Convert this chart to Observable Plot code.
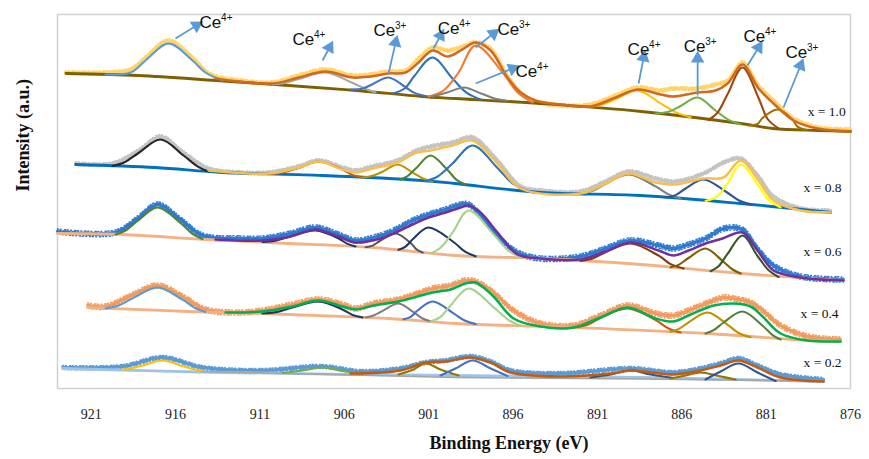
<!DOCTYPE html>
<html><head><meta charset="utf-8">
<script src="https://cdn.jsdelivr.net/npm/d3@7"></script>
<script src="https://cdn.jsdelivr.net/npm/@observablehq/plot@0.6"></script>
<style>body{margin:0;background:#fff;} svg{display:block;}</style>
</head><body>
<script>
// ---------- DATA (binding energy eV, intensity a.u.) ----------
const xTicks = [921, 916, 911, 906, 901, 896, 891, 886, 881, 876];

// x = 1.0
const raw10 = [[922.53,316],[920.15,316],[918.67,319],[917.78,331],[916.42,348],[915.0,331],[913.93,314],[912.15,308],[910.26,306],[908.71,313],[907.11,319],[905.51,313],[904.45,314],[903.38,317],[902.37,318],[901.6,330],[900.77,341],[899.88,338],[899.11,341],[898.22,346],[897.33,340],[896.33,313],[895.55,296],[894.67,287],[893.18,283],[891.41,284],[889.92,293],[888.62,301],[887.26,298],[886.55,300],[885.06,300],[884.0,304],[883.28,308],[882.4,326],[881.45,303],[880.56,288],[879.37,270],[877.95,261],[876.0,259]];
const base10 = [[922.5,315],[918.2,313],[913.6,308],[909.3,303],[905.3,298],[901.4,292],[899.4,290],[894.4,285],[888.4,277],[882.5,265],[880.6,260],[877.9,258],[876.0,257]];
const peaks10 = [
 [[920.15,314],[918.67,316],[917.78,328],[916.42,345],[915.0,328],[914.23,316],[913.22,308]],
 [[910.26,304],[909.6,305.3],[908.71,309.5],[907.11,316],[905.51,305.5],[904.62,298.8],[904.15,296]],
 [[905.62,299],[904.92,299.9],[904.33,304.3],[903.38,311],[902.43,302],[901.84,295.6],[901.19,292.5]],
 [[903.14,295],[902.43,300],[901.84,312.7],[900.77,331],[899.59,310],[898.76,295.8],[897.93,289]],
 [[901.01,292],[900.12,298],[899.23,316],[898.22,343],[896.62,316],[895.73,296],[894.84,286]],
 [[900.8,292],[899.9,296],[898.9,301],[897.9,295],[897.0,289.5],[896.4,288]],
 [[891.7,281.5],[890.81,283.4],[889.92,289.5],[888.62,298],[887.26,285.2],[886.37,276.4],[885.48,271.2]],
 [[887.55,275],[886.78,276.7],[886.07,282.5],[885.06,291],[884.0,278],[883.28,269.2],[882.51,264]],
 [[884.41,268.5],[883.88,275.9],[883.28,294.5],[882.4,321],[881.45,290.5],[880.91,269.5],[880.26,260]],
 [[882.04,263],[881.51,264.6],[881.21,270.5],[880.32,279],[879.43,268.8],[879.14,261.9],[878.6,258.5]]
];
const env10 = [[913.63,310],[910.26,305],[908.71,311],[907.11,317],[905.51,311],[904.45,312],[903.38,315],[902.37,316],[901.6,326],[900.77,338],[899.88,332],[899.11,338],[898.22,346],[897.33,338],[896.33,311],[895.55,296],[894.67,288],[893.18,284],[891.41,282],[889.92,291],[888.62,299],[887.26,294],[886.55,292],[885.06,296],[884.0,298],[883.28,305],[882.4,324],[881.45,300],[880.56,285],[879.37,268],[877.95,260],[876.0,257]];

// x = 0.8
const raw08 = [[921.93,225],[919.74,225],[918.2,238],[916.89,252],[915.53,236],[914.05,220],[912.15,216],[910.49,216],[908.71,222],[907.53,228],[906.11,221],[905.34,218],[904.33,222],[902.85,228],[901.72,238],[900.89,242],[899.59,246],[898.4,251],[896.92,228],[895.55,202],[894.37,198],[892.0,197],[890.52,207],[889.15,217],[887.55,210],[886.37,207],[884.71,215],[883.52,226],[882.51,230],[881.45,212],[880.56,192],[878.96,180],[877.18,178]];
const base08 = [[921.93,224],[917.19,221],[913.22,216],[907.29,213],[901.36,208],[899.41,205],[894.37,196],[888.44,193],[882.51,185],[877.18,176]];
const peaks08 = [
 [[919.74,222.5],[919.03,226.2],[918.2,235.5],[916.89,249],[915.53,233],[914.7,222.2],[914.05,217]],
 [[910.49,214.5],[909.6,216.1],[908.71,220.5],[907.53,227],[906.11,219],[905.51,213.5],[904.92,211]],
 [[904.92,211],[904.33,212.7],[903.68,217.2],[902.85,224],[901.9,215.4],[901.3,209.7],[900.77,206.8]],
 [[902.67,209],[902.25,212.4],[901.72,220.8],[900.89,233],[899.88,218.5],[899.35,208.6],[898.82,204]],
 [[901.19,207.2],[900.47,212],[899.59,225],[898.4,243],[896.92,220.5],[896.03,205],[895.14,197.5]],
 [[892.0,195],[891.29,197.7],[890.52,204.5],[889.15,214],[887.55,202.1],[886.78,194.1],[886.07,190]],
 [[886.96,191],[886.37,193.4],[885.77,200],[884.71,209],[883.4,197],[882.63,188.2],[881.92,184]],
 [[884.59,187.5],[883.88,192.4],[883.28,205.5],[882.51,224],[881.45,202.8],[880.85,188.4],[880.14,181]]
];
const env08 = [[914.05,218],[910.49,215],[908.71,221],[907.53,227],[906.11,219],[905.34,216],[904.33,220],[902.85,226],[901.72,236],[900.89,238],[899.59,243],[898.4,248],[896.92,225],[895.55,200],[892.0,195],[890.52,205],[889.15,215],[887.55,206],[886.37,204],[884.71,210],[883.52,211],[882.51,228],[881.45,208],[880.56,188],[878.96,178],[877.18,176]];

// x = 0.6
const raw06 = [[923.0,157],[919.56,156],[918.26,170],[917.07,184],[915.71,169],[914.41,153],[912.15,150],[910.85,150],[909.19,155],[907.71,161],[906.34,154],[905.34,148],[903.85,153],[902.96,159],[901.96,168],[901.01,174],[900.0,179],[899.11,184],[898.64,184],[897.93,174],[896.92,153],[895.73,136],[894.37,130],[892.0,132],[890.52,140],[889.03,148],[887.37,143],[886.49,140],[885.6,144],[884.59,150],[883.52,160],[882.4,159],[881.51,140],[880.56,123],[878.96,112],[876.41,109]];
const base06 = [[923.0,155],[919.15,154],[914.23,149],[909.31,145],[904.33,141],[899.41,133],[894.37,130],[888.44,124],[882.51,115],[876.41,108]];
const peaks06 = [
 [[919.56,154],[918.97,157.9],[918.26,167.5],[917.07,181],[915.71,165.5],[915.0,154.7],[914.41,149.5]],
 [[910.85,146.5],[910.08,147.9],[909.19,152],[907.71,158],[906.34,150],[905.81,144.6],[905.34,142]],
 [[904.74,141.3],[904.33,142.9],[903.85,148],[902.96,155],[902.07,145.5],[901.72,139.1],[901.36,136]],
 [[902.79,138.7],[902.37,141.9],[901.9,150],[901.01,161],[899.53,146.5],[898.82,136.6],[898.22,132.2]],
 [[900.89,135],[900.3,140.8],[899.59,155.8],[898.64,178],[897.16,154.3],[896.27,137.8],[895.44,130.5]],
 [[892.0,127.5],[891.29,129.9],[890.52,136.3],[889.03,145],[887.37,132.8],[886.66,124.4],[885.89,120]],
 [[886.66,121.3],[886.19,123.6],[885.6,130.5],[884.59,140],[883.58,127.5],[882.99,119],[882.51,115]],
 [[884.29,117.3],[883.82,122.2],[883.28,134.8],[882.4,153],[881.51,132.5],[880.85,118.2],[880.26,111.5]]
];
const env06 = [[913.63,149],[910.85,148],[909.19,152],[907.71,159],[906.34,152],[905.34,146],[903.85,150],[902.96,156],[901.96,164],[901.01,171],[900.0,176],[899.11,181],[898.64,183],[897.93,176],[896.92,156],[895.73,134],[894.37,130],[892.0,129],[890.52,137],[889.03,146],[887.37,138],[886.49,133],[885.6,138],[884.59,145],[883.58,150],[882.4,156],[881.51,138],[880.56,118],[878.96,111],[876.41,108]];

// x = 0.4
const raw04 = [[921.22,83],[920.15,82],[918.5,94],[917.07,103],[915.59,92],[914.23,79],[912.15,76],[910.85,78],[909.07,84],[907.53,89],[906.11,84],[905.34,80],[904.27,85],[902.79,89],[901.66,95],[900.77,100],[899.7,103],[898.82,108],[898.22,107],[897.16,96],[895.97,78],[894.37,65],[892.41,63],[890.81,73],[889.21,83],[887.55,75],[886.49,73],[885.48,79],[884.11,88],[883.52,91],[882.93,90],[881.92,86],[881.21,78],[880.14,63],[878.54,52],[876.59,49]];
const base04 = [[921.22,81],[915.23,77],[909.31,74],[903.38,70],[899.41,65],[892.41,61],[884.47,55],[878.54,48],[876.59,47]];
const peaks04 = [
 [[920.15,80],[919.38,82.9],[918.5,90.6],[917.07,101],[915.59,88.8],[914.82,80.2],[914.23,76.5]],
 [[910.85,75],[909.96,76.6],[909.07,81],[907.53,87],[906.11,79],[905.51,73.6],[904.92,71]],
 [[904.74,71],[904.27,73.1],[903.68,78.1],[902.79,85],[901.9,76.3],[901.36,70],[900.89,67.2]],
 [[902.49,69.2],[902.07,71.7],[901.66,78],[900.77,87],[899.53,75.2],[898.87,68],[898.22,64.5]],
 [[900.89,67],[900.3,71.6],[899.7,83],[898.64,100],[897.16,81.4],[896.27,68.5],[895.55,62.7]],
 [[892.41,61],[891.58,63.7],[890.81,70.8],[889.21,80],[887.55,68.4],[886.78,60],[886.07,56]],
 [[886.66,56.7],[886.19,59.4],[885.6,66.2],[884.47,76],[883.28,63.7],[882.63,55.5],[881.92,51.2]],
 [[884.59,55],[884.11,58.3],[883.52,66],[882.4,77],[881.21,62.8],[880.62,53.4],[880.14,49]]
];
const env04 = [[913.04,76],[910.85,77],[909.07,82],[907.53,88],[906.11,82],[905.34,79],[904.27,83],[902.79,87],[901.66,92],[900.77,96],[899.7,99],[898.82,105],[898.22,106],[897.16,92],[895.97,70],[894.37,62],[892.41,61],[890.81,71],[889.21,81],[887.55,70],[886.49,67],[885.48,74],[884.11,83],[882.93,85],[881.92,82],[881.21,72],[880.14,55],[878.54,48],[876.59,47]];

// x = 0.2
const raw02 = [[922.7,21],[919.15,22],[916.78,31],[914.41,21],[910.97,18],[907.29,22],[905.04,17],[902.67,20],[901.19,26],[900.0,28],[898.52,32],[897.33,27],[896.15,18],[893.18,15],[889.03,20],[886.49,16],[884.89,20],[883.7,25],[882.63,30],[881.51,23],[880.14,14],[877.59,9]];
const base02 = [[922.7,20],[913.22,16],[899.41,13],[888.44,11],[877.59,7]];
const base02b = [[914.5,17],[899.4,11],[888.4,9.5],[877.6,7.5]];
const peaks02 = [
 [[919.15,19],[918.55,20.5],[917.96,23],[916.78,28],[915.59,22.5],[915.0,19.5],[914.41,18]],
 [[909.66,15.5],[908.48,18],[907.29,21],[906.11,17.5],[904.92,14.5]],
 [[902.79,14],[901.9,19],[901.19,25],[900.3,19],[899.23,13]],
 [[900.3,13],[899.41,20],[898.4,28],[897.33,20],[896.33,12.5]],
 [[891.41,11],[890.22,14],[889.03,18],[887.85,14],[886.49,10.5]],
 [[886.66,10],[885.77,13],[884.89,16],[883.82,12.5],[882.81,9]],
 [[884.59,9],[883.7,17],[882.63,25],[881.51,16],[880.44,7.5]]
];
const env02 = [[905.63,15],[902.67,18],[901.19,26],[900.0,27],[898.52,31],[897.33,26],[896.15,16],[893.18,12],[890.22,15],[889.03,18],[887.85,16],[886.49,14],[884.89,18],[883.7,23],[882.63,28],[881.51,21],[880.14,11],[877.59,7]];

// Spectrum labels
const sampleLabels = ["x = 1.0", "x = 0.8", "x = 0.6", "x = 0.4", "x = 0.2"];
const sampleLabelE = [878.54, 878.78, 878.78, 878.96, 878.78];
const sampleLabelI = [273, 197, 133, 71, 22];

// Ce oxidation-state annotations
const ionCharge = ["4+","4+","3+","4+","3+","4+","4+","3+","4+","3+"];
const ionLabelE = [914.58, 909.07, 904.27, 900.47, 896.92, 895.85, 889.21, 885.89, 882.34, 879.85];
const ionLabelI = [361, 344, 353, 355, 354, 312, 334, 337, 347, 331];
const arrowE1 = [916.01, 907.29, 903.38, 900.71, 898.22, 898.22, 888.56, 885.06, 882.10, 879.97];
const arrowI1 = [350, 328, 315, 340, 341, 305, 305, 293, 323, 281];
const arrowE2 = [914.76, 906.88, 902.96, 900.30, 897.16, 896.03, 888.26, 885.06, 881.45, 878.96];
const arrowI2 = [363, 341, 346, 353, 355, 320, 331, 330, 341, 323];

// ---------- STYLE ----------
const W = 869, H = 459;
const M = {left: 57, right: 19, top: 14, bottom: 71};
const xDomain = [923, 876], yDomain = [0, 374];
const serif = "Liberation Serif, Times New Roman, serif";
const sans = "Liberation Sans, Arial, sans-serif";

const spectra = [
  {raw: raw10, rawC: "#ffd46b", jit: 1.8, base: base10, baseC: "#7f6000", peaks: peaks10,
   cols: ["#5b9bd5","#a5a5a5","#4472c4","#2e75b6","#ed7d31","#7f7f7f","#ffc000","#70ad47","#9e480e","#997300"],
   env: env10, envC: "#d2691e"},
  {raw: raw08, rawC: "#c4c4c4", jit: 1.8, base: base08, baseC: "#0070c0", peaks: peaks08,
   cols: ["#262626","#c55a11","#bf9000","#548235","#2e75b6","#7f7f7f","#2f5597","#ffff00"],
   env: env08, envC: "#f6bf4f"},
  {raw: raw06, rawC: "#2e7bcf", jit: 2.6, base: base06, baseC: "#f4b183", peaks: peaks06,
   cols: ["#548235","#203864","#595959","#1f3864","#a9d18e","#843c0c","#7f6000","#385723"],
   env: env06, envC: "#7030a0"},
  {raw: raw04, rawC: "#f39a5e", jit: 2.6, base: base04, baseC: "#f4b183", peaks: peaks04,
   cols: ["#5b9bd5","#203864","#7f7f7f","#4472c4","#a9d18e","#c55a11","#bf9000","#548235"],
   env: env04, envC: "#00b050"},
  {raw: raw02, rawC: "#5b9bd5", jit: 2.0, base: base02, baseC: "#9dc3e6", peaks: peaks02,
   cols: ["#ffc000","#70ad47","#997300","#4472c4","#44546a","#997300","#2f5597"],
   env: env02, envC: "#c55a11"}
];

// dash patterns used to roughen the measured traces (pure styling)
const roughness = [
  {f: -1.0, dash: "1 2.2 0.8 3.1 1.4 1.6", off: 0},
  {f: -0.5, dash: "2.1 1.3 0.7 2.6 1.5 0.9", off: 0.7},
  {f: 0.5, dash: "0.9 1.8 2.2 1.1 0.6 2.7", off: 1.9},
  {f: 1.0, dash: "0.8 2.9 1.2 1.7 0.9 2.4", off: 1.4}
];

const X = d => d[0], Y = d => d[1];
const marks = [Plot.frame({stroke: "#d0d0d0", strokeWidth: 1.5})];
spectra.forEach((s, k) => {
  marks.push(Plot.line(s.raw, {x: X, y: Y, stroke: s.rawC, strokeWidth: 3, curve: "catmull-rom"}));
  roughness.forEach(r => marks.push(Plot.line(s.raw, {x: X, y: Y, dy: r.f * s.jit, stroke: s.rawC, strokeWidth: 1.5,
    strokeDasharray: r.dash, strokeDashoffset: r.off, curve: "catmull-rom"})));
  marks.push(Plot.line(s.base, {x: X, y: Y, stroke: s.baseC, strokeWidth: 2.8, curve: "catmull-rom"}));
  if (k === 4) marks.push(Plot.line(base02b, {x: X, y: Y, stroke: "#a5a5a5", strokeWidth: 1.6}));
  s.peaks.forEach((p, i) => marks.push(Plot.line(p, {x: X, y: Y, stroke: s.cols[i], strokeWidth: 2.1, curve: "catmull-rom"})));
  marks.push(Plot.line(s.env, {x: X, y: Y, stroke: s.envC, strokeWidth: 2.5, curve: "catmull-rom"}));
});

// arrows
const xs = d3.scaleLinear(xDomain, [M.left, W - M.right]);
const ys = d3.scaleLinear(yDomain, [H - M.bottom, M.top]);
const idx = d3.range(ionCharge.length);
const angle = i => Math.atan2(xs(arrowE2[i]) - xs(arrowE1[i]), -(ys(arrowI2[i]) - ys(arrowI1[i]))) * 180 / Math.PI;
marks.push(Plot.link(idx, {x1: i => arrowE1[i], y1: i => arrowI1[i], x2: i => arrowE2[i], y2: i => arrowI2[i], stroke: "#5b9bd5", strokeWidth: 1.8}));
marks.push(Plot.dot(idx, {x: i => arrowE2[i], y: i => arrowI2[i], symbol: "triangle", r: 5, fill: "#5b9bd5", stroke: "none", rotate: angle}));
marks.push(Plot.text(idx, {x: i => ionLabelE[i], y: i => ionLabelI[i], text: () => "Ce", textAnchor: "start", lineAnchor: "bottom", fontSize: 17, fontFamily: sans, fill: "#111"}));
marks.push(Plot.text(idx, {x: i => ionLabelE[i], y: i => ionLabelI[i], text: i => ionCharge[i], dx: 21.5, dy: -7, textAnchor: "start", lineAnchor: "bottom", fontSize: 10, fontFamily: sans, fill: "#111"}));
marks.push(Plot.text(sampleLabels, {x: (d, i) => sampleLabelE[i], y: (d, i) => sampleLabelI[i], textAnchor: "start", lineAnchor: "bottom", fontSize: 13.5, fontFamily: serif, fill: "#111"}));
marks.push(Plot.axisX(xTicks, {tickSize: 0, tickPadding: 21, fontSize: 14, fontFamily: serif, fill: "#222", label: null}));
marks.push(Plot.text(["Binding Energy (eV)"], {frameAnchor: "bottom", dx: 55, dy: 55, lineAnchor: "middle", fontSize: 18, fontWeight: "bold", fontFamily: serif, fill: "#111"}));
marks.push(Plot.text(["Intensity (a.u.)"], {frameAnchor: "left", dx: -34, dy: -10, rotate: -90, lineAnchor: "middle", fontSize: 18, fontWeight: "bold", fontFamily: serif, fill: "#111"}));

const svg = Plot.plot({
  width: W, height: H,
  marginLeft: M.left, marginRight: M.right, marginTop: M.top, marginBottom: M.bottom,
  x: {domain: xDomain},
  y: {domain: yDomain, axis: null},
  style: {background: "#fff", fontFamily: serif},
  marks
});
document.body.appendChild(svg);
</script>
</body></html>
